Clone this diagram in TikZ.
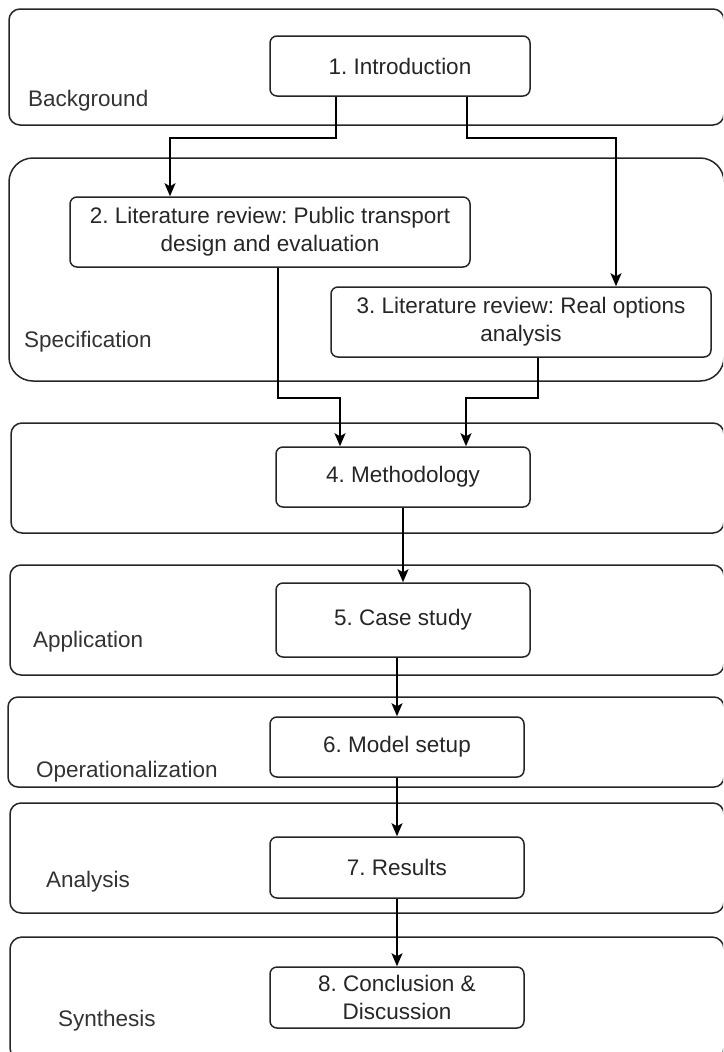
\documentclass[tikz,border=0pt]{standalone}
\usepackage{fontspec}
\setmainfont{Liberation Sans}
\usetikzlibrary{arrows.meta,calc}
\frenchspacing

\tikzset{
  group/.style={draw=black!85, line width=1.5pt, fill=none, inner sep=0pt},
  stepbox/.style={draw=black!85, line width=1.5pt, rounded corners=7pt, align=center,
    inner sep=0pt, text=black!85, font=\fontsize{22.5}{28}\selectfont},
  grouplabel/.style={anchor=base west, inner sep=0pt, text=black!80,
    font=\fontsize{22.5}{28}\selectfont},
  arr/.style={draw=black, line width=1.5pt,
    -{Stealth[length=13pt,width=11pt,inset=3pt]}},
}

\begin{document}
\begin{tikzpicture}[x=1pt,y=-1pt]
\clip (0,0) rectangle (723,1052);
\fill[white] (0,0) rectangle (723,1052);

% phase groups
\node[group, rounded corners=11pt, minimum width=715pt, minimum height=116pt] (gback) at (366.5,67) {};
\node[group, rounded corners=24pt, minimum width=715pt, minimum height=223pt] (gspec) at (366.5,269.5) {};
\node[group, rounded corners=11pt, minimum width=713pt, minimum height=110pt] (gmeth) at (367.5,478) {};
\node[group, rounded corners=11pt, minimum width=714pt, minimum height=110pt] (gapp) at (367,620) {};
\node[group, rounded corners=10pt, minimum width=716pt, minimum height=90pt] (gop) at (366,742) {};
\node[group, rounded corners=11pt, minimum width=714pt, minimum height=110pt] (gana) at (367,858) {};
\node[group, rounded corners=12pt, minimum width=714pt, minimum height=123pt] (gsyn) at (367,998.5) {};

% phase labels
\node[grouplabel] (lback) at (28,106) {Background};
\node[grouplabel] (lspec) at (24,347) {Specification};
\node[grouplabel] (lapp) at (33,647) {Application};
\node[grouplabel] (lop) at (36,777) {Operationalization};
\node[grouplabel] (lana) at (46,887) {Analysis};
\node[grouplabel] (lsyn) at (58,1026) {Synthesis};

% chapters
\node[stepbox, minimum width=260pt, minimum height=60pt] (intro) at (400,66) {1. Introduction};
\node[stepbox, minimum width=400pt, minimum height=70pt] (lit2) at (270,232) {2. Literature review: Public transport\\design and evaluation};
\node[stepbox, minimum width=380pt, minimum height=70pt] (lit3) at (521,322) {3. Literature review: Real options\\analysis};
\node[stepbox, minimum width=254pt, minimum height=60pt] (meth) at (403,477) {4. Methodology};
\node[stepbox, minimum width=254pt, minimum height=74pt] (case) at (403,620) {5. Case study};
\node[stepbox, minimum width=254pt, minimum height=60pt] (model) at (397,747) {6. Model setup};
\node[stepbox, minimum width=254pt, minimum height=61pt] (res) at (397,867.5) {7. Results};
\node[stepbox, minimum width=254pt, minimum height=61pt] (concl) at (397,997.5) {8. Conclusion \&\\Discussion};

% connectors
\draw[arr] ([xshift=-64pt]intro.south) -- ++(0,41) -| ([xshift=-100pt]lit2.north);
\draw[arr] ([xshift=67pt]intro.south) -- ++(0,41) -| ([xshift=95pt]lit3.north);
\draw[arr] ([xshift=8pt]lit2.south) -- ++(0,130) -| ([xshift=-63pt]meth.north);
\draw[arr] ([xshift=17pt]lit3.south) -- ++(0,40) -| ([xshift=63pt]meth.north);
\draw[arr] (meth.south) -- (case.north);
\draw[arr] ([xshift=-6pt]case.south) -- (model.north);
\draw[arr] (model.south) -- (res.north);
\draw[arr] (res.south) -- (concl.north);
\end{tikzpicture}
\end{document}
